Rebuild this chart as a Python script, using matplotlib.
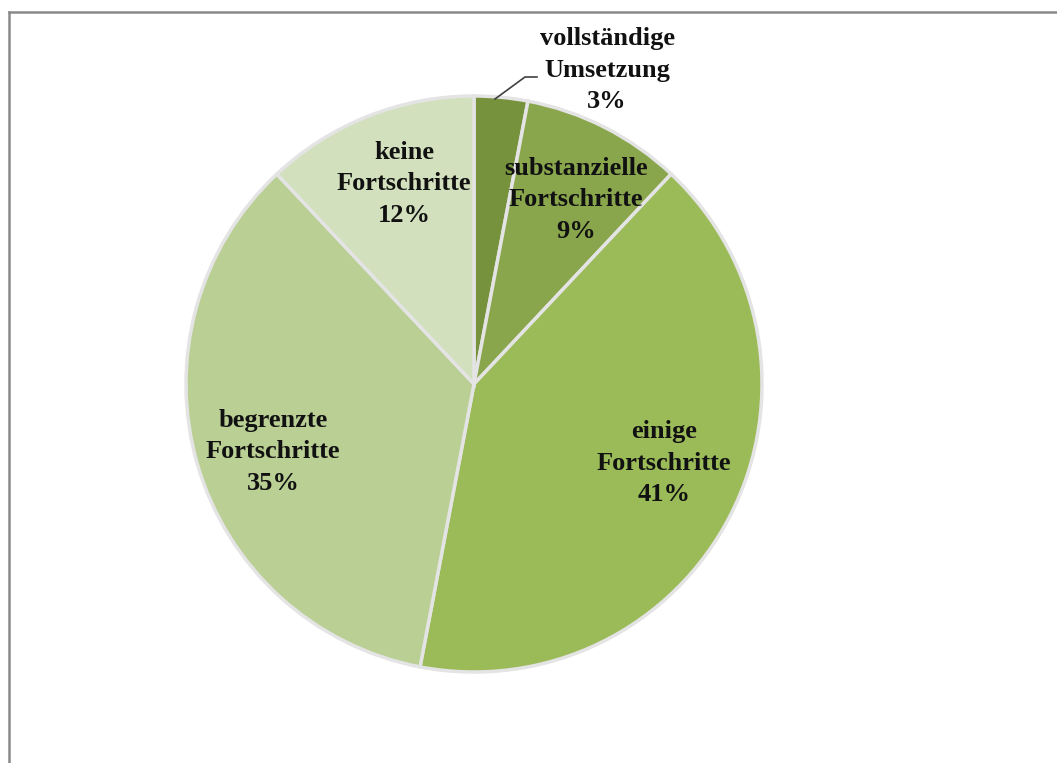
import numpy as np
import matplotlib.pyplot as plt
from matplotlib.lines import Line2D

# Fortschritt bei der Umsetzung (Anteile in %)
labels = ["vollständige\nUmsetzung", "substanzielle\nFortschritte", "einige\nFortschritte",
          "begrenzte\nFortschritte", "keine\nFortschritte"]
values = [3, 9, 41, 35, 12]
colors = ["#76923C", "#89A64C", "#9BBB59", "#BACF94", "#D3E0BD"]

W, H = 1057, 763
fig = plt.figure(figsize=(W / 100, H / 100), dpi=100, facecolor="white")
ax = fig.add_axes([0, 0, 1, 1])

cx, cy, R = 474, H - 384, 288

wedges, _ = ax.pie(values, startangle=90, counterclock=False, colors=colors,
                   center=(cx, cy), radius=R, frame=True,
                   wedgeprops=dict(edgecolor="#e4e4e4", linewidth=2.5))
ax.set_xlim(0, W)
ax.set_ylim(0, H)
ax.axis("off")

# label positions in pixels (x, y from top)
lab_pos = [(607, 70), (576, 200), (664, 463), (273, 452), (404, 184)]
font = dict(family="Liberation Serif", weight="bold", size=19, ha="center",
            va="center", linespacing=1.45, color="#111111")
for lab, v, (x, y) in zip(labels, values, lab_pos):
    ax.text(x, H - y, f"{lab}\n{v}%", **font)

# leader line for the small slice
ax.plot([495, 525, 537], [H - 99, H - 77, H - 77], color="#404040", lw=1.2)

# outer frame (top and left edges only visible)
fig.add_artist(Line2D([9 / W, 9 / W], [0, 1 - 12 / H], transform=fig.transFigure,
                      color="#8a8a8a", lw=1.8))
fig.add_artist(Line2D([9 / W, 1], [1 - 12 / H, 1 - 12 / H], transform=fig.transFigure,
                      color="#8a8a8a", lw=1.8))

fig.savefig("out.png", dpi=100, facecolor="white")
